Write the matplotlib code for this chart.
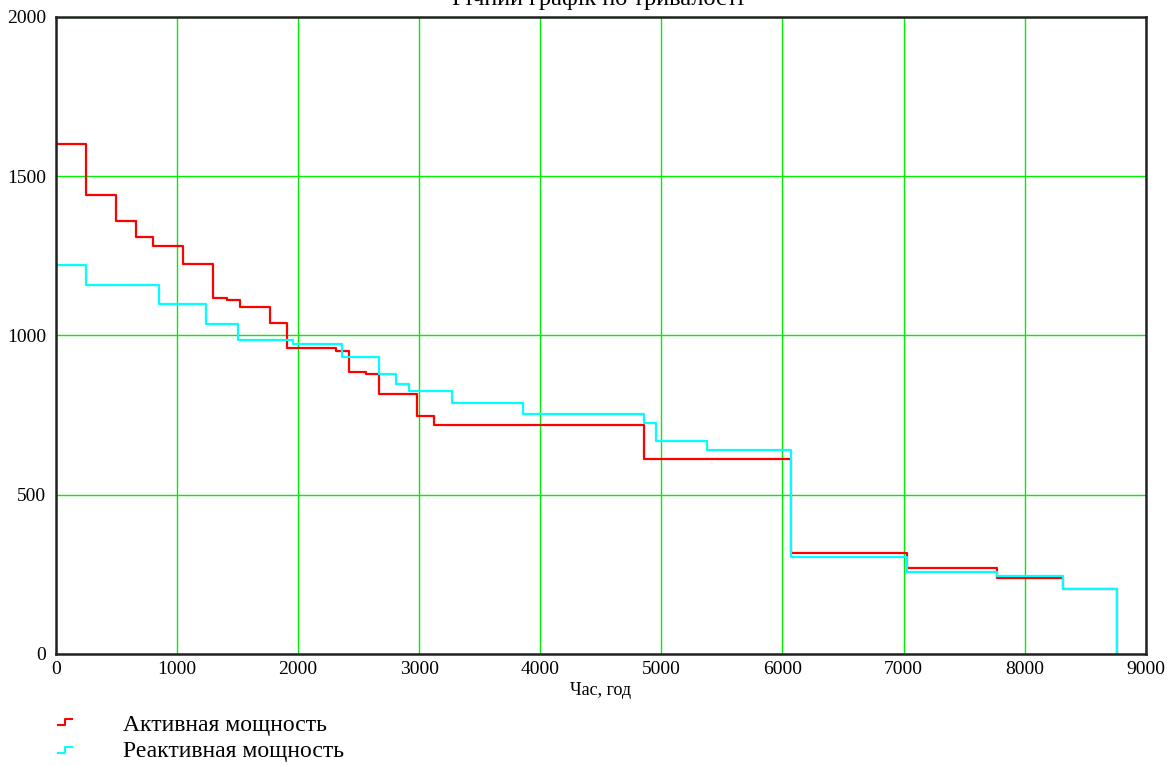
import matplotlib.pyplot as plt
from matplotlib.lines import Line2D

# Step edges (hours) and levels for each series
active_edges = [0, 250, 500, 660, 800, 1050, 1300, 1410, 1520, 1770, 1910, 2310, 2420,
                2560, 2670, 2980, 3120, 4860, 6070, 7030, 7770, 8320, 8760]
active_levels = [1600, 1440, 1360, 1310, 1280, 1225, 1118, 1110, 1090, 1040, 960, 950,
                 885, 878, 816, 748, 720, 612, 318, 270, 240, 205]

reactive_edges = [0, 250, 850, 1240, 1500, 1960, 2365, 2670, 2810, 2915, 3275, 3860,
                  4860, 4955, 5375, 6070, 7030, 7770, 8320, 8760]
reactive_levels = [1220, 1160, 1100, 1035, 985, 973, 933, 878, 848, 825, 789, 754,
                   724, 670, 640, 305, 256, 245, 205]

x_ticks = [0, 1000, 2000, 3000, 4000, 5000, 6000, 7000, 8000, 9000]
y_ticks = [0, 500, 1000, 1500, 2000]

plt.rcParams['font.family'] = ['Liberation Serif', 'DejaVu Serif']

fig = plt.figure(figsize=(11.73, 7.65), dpi=100)
ax = fig.add_axes([0.0477, 0.1451, 0.929, 0.8327])

# series drawn as steps ending with a drop to zero
ax.step(active_edges, active_levels + [0], where='post', color='#ff0000', lw=1.6)
ax.step(reactive_edges, reactive_levels + [0], where='post', color='#00ffff', lw=1.6)

ax.set_xlim(0, 9000)
ax.set_ylim(0, 2000)
ax.set_xticks(x_ticks)
ax.set_yticks(y_ticks)
ax.tick_params(length=0, labelsize=14)
ax.tick_params(axis='y', pad=7)
ax.tick_params(axis='x', pad=5)
ax.grid(True, color='#00ee00', lw=1)
ax.set_axisbelow(True)
for s in ax.spines.values():
    s.set_color('#222222')
    s.set_linewidth(1.8)

ax.set_xlabel("Час, год", fontsize=13, labelpad=3)

# title, partly cut off at the top edge like the original
fig.text(0.51, 1 - 5 / 765, "Річний графік по тривалості", ha='center', va='baseline', fontsize=17.5)

# legend below the plot
def step_glyph(y_px, color):
    xs = [58 / 1173, 65 / 1173, 65 / 1173, 72 / 1173]
    ys = [1 - (y_px + 3) / 765, 1 - (y_px + 3) / 765, 1 - (y_px - 3) / 765, 1 - (y_px - 3) / 765]
    fig.add_artist(Line2D(xs, ys, color=color, lw=1.5, transform=fig.transFigure))

step_glyph(722, '#ff0000')
step_glyph(750, '#00ffff')
fig.text(123 / 1173, 1 - 725 / 765, "Активная мощность", fontsize=17, va='center')
fig.text(123 / 1173, 1 - 752 / 765, "Реактивная мощность", fontsize=17, va='center')

fig.savefig("out.png", dpi=100)
